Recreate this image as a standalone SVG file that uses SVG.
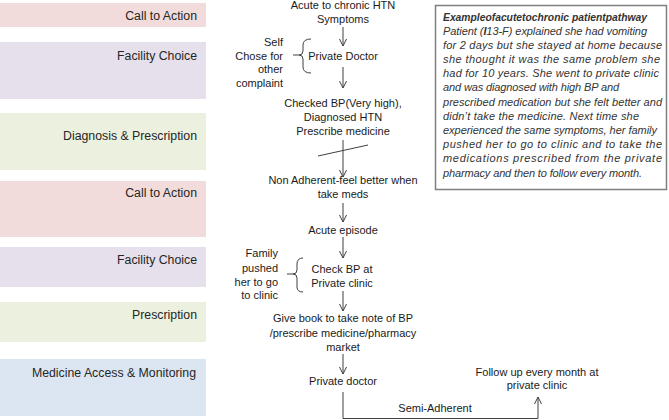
<svg xmlns="http://www.w3.org/2000/svg" width="669" height="420" viewBox="0 0 669 420">
<defs>
<style>
.band-label{font-family:"Liberation Sans",Arial,sans-serif;font-size:12.3px;fill:#262626;text-anchor:end}
.t{font-family:"Liberation Sans",Arial,sans-serif;font-size:11px;fill:#1a1a1a;text-anchor:middle}
.side{font-family:"Liberation Sans",Arial,sans-serif;font-size:11px;fill:#1a1a1a;text-anchor:end}
.box{font-family:"Liberation Sans",Arial,sans-serif;font-size:11px;font-style:italic;fill:#333}
.conn{fill:none;stroke:#404040;stroke-width:1}
</style>
<marker id="arr" viewBox="0 0 8 8" refX="7.5" refY="4" markerWidth="8" markerHeight="8" markerUnits="userSpaceOnUse" orient="auto">
<path d="M0.5,0.5 L7.5,4 L0.5,7.5" fill="none" stroke="#404040" stroke-width="1"/>
</marker>
</defs>
<rect width="669" height="420" fill="#ffffff"/>

<g id="bands">
<g id="band1"><rect x="0" y="3" width="206" height="24" fill="#f2dcdb"/><text class="band-label" x="197" y="19.5">Call to Action</text></g>
<g id="band2"><rect x="0" y="42" width="206" height="57" fill="#e5e0ec"/><text class="band-label" x="197" y="59.5">Facility Choice</text></g>
<g id="band3"><rect x="0" y="113" width="206" height="57" fill="#ebf1de"/><text class="band-label" x="197" y="139.5">Diagnosis &amp; Prescription</text></g>
<g id="band4"><rect x="0" y="181" width="206" height="56" fill="#f2dcdb"/><text class="band-label" x="197" y="196.5">Call to Action</text></g>
<g id="band5"><rect x="0" y="247" width="206" height="40" fill="#e5e0ec"/><text class="band-label" x="197" y="263.5">Facility Choice</text></g>
<g id="band6"><rect x="0" y="302" width="206" height="40" fill="#ebf1de"/><text class="band-label" x="197" y="318.5">Prescription</text></g>
<g id="band7"><rect x="0" y="359" width="206" height="57" fill="#dce6f2"/><text class="band-label" x="196" y="376.5">Medicine Access &amp; Monitoring</text></g>
</g>

<g id="n-symptoms"><text class="t" x="343" y="9">Acute to chronic HTN</text><text class="t" x="343" y="23">Symptoms</text></g>
<g id="n-private-doctor"><text class="t" x="343" y="60">Private Doctor</text></g>
<g id="n-self"><text class="side" x="283" y="46">Self</text><text class="side" x="283" y="60">Chose for</text><text class="side" x="283" y="73">other</text><text class="side" x="283" y="87">complaint</text></g>
<g id="n-checked"><text class="t" x="343" y="107">Checked BP(Very high),</text><text class="t" x="343" y="121">Diagnosed HTN</text><text class="t" x="343" y="135">Prescribe medicine</text></g>
<g id="n-nonadherent"><text class="t" x="343" y="184">Non Adherent-feel better when</text><text class="t" x="343" y="198">take meds</text></g>
<g id="n-acute"><text class="t" x="343" y="234">Acute episode</text></g>
<g id="n-checkbp"><text class="t" x="342" y="273">Check BP at</text><text class="t" x="342" y="287">Private clinic</text></g>
<g id="n-family"><text class="side" x="278" y="257">Family</text><text class="side" x="278" y="272">pushed</text><text class="side" x="278" y="286">her to go</text><text class="side" x="278" y="299">to clinic</text></g>
<g id="n-givebook"><text class="t" x="343" y="322">Give book to take note of BP</text><text class="t" x="343" y="337">/prescribe medicine/pharmacy</text><text class="t" x="343" y="351">market</text></g>
<g id="n-private-doctor2"><text class="t" x="343" y="385">Private doctor</text></g>
<g id="n-followup"><text class="t" x="537" y="376">Follow up every month at</text><text class="t" x="537" y="389">private clinic</text></g>

<g id="n-example">
<rect x="435.5" y="5.5" width="231" height="184" fill="#ffffff" stroke="#7f7f7f" stroke-width="1.5"/>
<text class="box" x="443" y="21" font-weight="bold" fill="#1a1a1a" textLength="204" lengthAdjust="spacingAndGlyphs">Exampleofacutetochronic patientpathway</text>
<text class="box" x="443" y="35" textLength="204" lengthAdjust="spacing">Patient (<tspan font-weight="bold">I</tspan>13-F) explained she had vomiting</text>
<text class="box" x="443" y="49" textLength="219" lengthAdjust="spacing">for 2 days but she stayed at home because</text>
<text class="box" x="443" y="63" textLength="217" lengthAdjust="spacing">she thought it was the same problem she</text>
<text class="box" x="443" y="77" textLength="216" lengthAdjust="spacing">had for 10 years. She went to private clinic</text>
<text class="box" x="443" y="91" textLength="176" lengthAdjust="spacing">and was diagnosed with high BP and</text>
<text class="box" x="443" y="106" textLength="219" lengthAdjust="spacing">prescribed medication but she felt better and</text>
<text class="box" x="443" y="120" textLength="196" lengthAdjust="spacing">didn’t take the medicine. Next time she</text>
<text class="box" x="443" y="134" textLength="214" lengthAdjust="spacing">experienced the same symptoms, her family</text>
<text class="box" x="443" y="148" textLength="219" lengthAdjust="spacing">pushed her to go to clinic and to take the</text>
<text class="box" x="443" y="162" textLength="219" lengthAdjust="spacing">medications prescribed from the private</text>
<text class="box" x="443" y="177" textLength="199" lengthAdjust="spacing">pharmacy and then to follow every month.</text>
</g>

<g id="connectors">
<line class="conn" x1="343" y1="27" x2="343" y2="46" marker-end="url(#arr)"/>
<line class="conn" x1="343" y1="67" x2="343" y2="88" marker-end="url(#arr)"/>
<line class="conn" x1="343" y1="140" x2="343" y2="177" marker-end="url(#arr)"/>
<line class="conn" x1="318" y1="156" x2="368" y2="145"/>
<line class="conn" x1="343" y1="203" x2="343" y2="222" marker-end="url(#arr)"/>
<line class="conn" x1="343" y1="237" x2="343" y2="258" marker-end="url(#arr)"/>
<line class="conn" x1="343" y1="291" x2="343" y2="311" marker-end="url(#arr)"/>
<line class="conn" x1="343" y1="354" x2="343" y2="374" marker-end="url(#arr)"/>
<path class="conn" d="M343,392 L343,418.5 L538,418.5 L538,397" marker-end="url(#arr)"/>
<path class="conn" d="M311,39 Q303,39 303,45 L303,51 Q303,55 299,55 Q303,55 303,59 L303,67 Q303,73 311,73 M293,55 L299,55"/>
<path class="conn" d="M303,258 Q297,258 297,264 L297,270 Q297,274 293,274 Q297,274 297,278 L297,287 Q297,292 303,292 M287,274 L293,274"/>
<text class="t" x="435" y="412">Semi-Adherent</text>
</g>
</svg>
